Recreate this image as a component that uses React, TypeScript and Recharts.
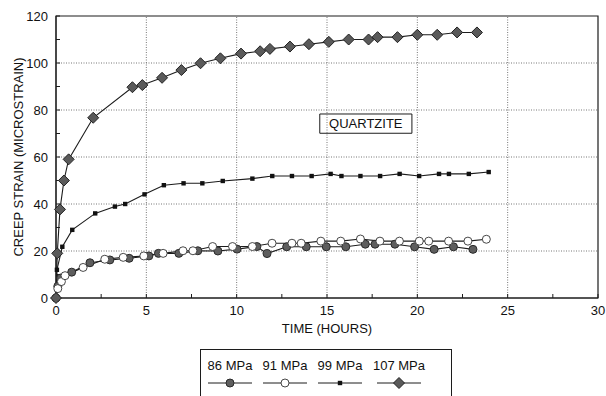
import {
  Label,
  Legend,
  Line,
  LineChart,
  ReferenceArea,
  ReferenceLine,
  XAxis,
  YAxis,
} from "recharts";

const hours86 = [0, 0.1, 0.26, 0.87, 1.88, 2.98, 4.05, 5.14, 5.67, 6.8, 7.85, 8.96, 10.02, 11.12, 11.68, 12.77, 13.85, 14.96, 16.04, 17.12, 17.66, 18.76, 19.85, 20.93, 22.0, 23.08];
const strain86 = [0, 5, 8.5, 11, 15, 16.2, 16.9, 17.9, 19, 19, 20.1, 20, 20.8, 21.9, 18.9, 21.8, 21.8, 21.8, 21.8, 22.9, 22.9, 22.9, 21.8, 20.7, 21.8, 20.7];

const hours91 = [0, 0.1, 0.3, 0.5, 1.5, 2.7, 3.72, 4.86, 5.93, 7.03, 7.58, 8.67, 9.77, 10.87, 11.96, 13.06, 13.57, 14.66, 15.76, 16.85, 17.93, 19.01, 20.11, 20.63, 21.73, 22.8, 23.82];
const strain91 = [0, 4, 7, 9.5, 13, 16.5, 17.3, 17.9, 19, 20.1, 20.1, 21.9, 21.9, 21.9, 23.3, 23.3, 23.3, 24.2, 24.2, 25.1, 24.2, 24.2, 24.2, 24.2, 24.2, 24.2, 25];

const hours99 = [0, 0.05, 0.35, 0.9, 2.17, 3.26, 3.83, 4.9, 5.97, 7.06, 8.1, 9.23, 10.87, 11.97, 13.06, 14.15, 15.2, 15.8, 16.85, 17.94, 19.02, 20.1, 21.2, 21.75, 22.85, 23.95];
const strain99 = [0, 12, 21.8, 29, 36, 38.9, 40, 44.1, 48, 48.8, 48.8, 49.8, 50.8, 51.9, 51.9, 51.9, 52.8, 51.9, 51.9, 51.9, 52.8, 51.9, 52.8, 52.8, 52.8, 53.6];

const hours107 = [0, 0.07, 0.22, 0.44, 0.7, 2.06, 4.23, 4.78, 5.87, 6.94, 8.0, 9.1, 10.24, 11.3, 11.84, 12.95, 14.0, 15.1, 16.2, 17.3, 17.8, 18.9, 20.0, 21.1, 22.2, 23.3];
const strain107 = [0, 19, 37.7, 50, 59, 76.7, 89.7, 90.6, 93.7, 97, 99.9, 102, 104, 105, 106, 107, 108, 109, 110, 110, 111, 111, 112, 112, 113, 113];

const seriesNames = ["86 MPa", "91 MPa", "99 MPa", "107 MPa"];

const xTicks = [0, 2.5, 5, 7.5, 10, 12.5, 15, 17.5, 20, 22.5, 25, 27.5, 30];
const yTicks = [0, 10, 20, 30, 40, 50, 60, 70, 80, 90, 100, 110, 120];
const xGrid = [5, 10, 15, 20, 25];
const yGrid = [20, 40, 60, 80, 100];

const font = "'Liberation Sans', Arial, sans-serif";
const ink = "#1c1c1c";

const toPoints = (hours: number[], strain: number[]) =>
  hours.map((t, i) => ({ t, v: strain[i] }));

function FilledDot({ cx, cy }: any) {
  return <circle cx={cx} cy={cy} r={4} fill="#5e5e5e" stroke="#2a2a2a" strokeWidth={1} />;
}

function OpenDot({ cx, cy }: any) {
  return <circle cx={cx} cy={cy} r={4} fill="#fff" stroke="#333" strokeWidth={0.9} />;
}

function SquareDot({ cx, cy }: any) {
  return <rect x={cx - 2.2} y={cy - 2.2} width={4.4} height={4.4} fill="#111" />;
}

function DiamondDot({ cx, cy }: any) {
  const s = 5.5;
  return (
    <polygon
      points={`${cx},${cy - s} ${cx + s},${cy} ${cx},${cy + s} ${cx - s},${cy}`}
      fill="#5a5a5a"
      stroke="#222"
      strokeWidth={1}
    />
  );
}

const markers = [FilledDot, OpenDot, SquareDot, DiamondDot];

function LegendBox() {
  const centers = [29, 84, 139, 198];
  return (
    <div
      style={{
        width: 252,
        height: 52,
        border: `1px solid ${ink}`,
        boxSizing: "border-box",
        background: "#fff",
      }}
    >
      <svg width={250} height={50}>
        {seriesNames.map((name, i) => {
          const Marker = markers[i];
          const cx = centers[i];
          return (
            <g key={name}>
              <text
                x={cx}
                y={17}
                textAnchor="middle"
                dominantBaseline="middle"
                fontSize={13}
                fontFamily={font}
                fill="#111"
              >
                {name}
              </text>
              <line x1={cx - 22} x2={cx + 22} y1={33} y2={33} stroke={ink} strokeWidth={1} />
              <Marker cx={cx} cy={33} />
            </g>
          );
        })}
      </svg>
    </div>
  );
}

export default function App() {
  const series = [
    toPoints(hours86, strain86),
    toPoints(hours91, strain91),
    toPoints(hours99, strain99),
    toPoints(hours107, strain107),
  ];

  return (
    <div style={{ width: 606, height: 396, overflow: "hidden", background: "#fff" }}>
      <style>{"body{margin:0}"}</style>
      <LineChart
        width={606}
        height={396}
        margin={{ top: 16, right: 8, bottom: 58, left: 0 }}
        style={{ fontFamily: font }}
      >
        <XAxis
          type="number"
          dataKey="t"
          domain={[0, 30]}
          ticks={xTicks}
          interval={0}
          allowDuplicatedCategory={false}
          height={40}
          tickSize={-4}
          tickMargin={12}
          tickFormatter={(v: number) => (v % 5 === 0 ? String(v) : "")}
          tick={{ fontSize: 13, fill: "#111" }}
          axisLine={{ stroke: ink }}
          tickLine={{ stroke: ink }}
        >
          <Label value="TIME (HOURS)" position="center" dy={10} fontSize={13} fill="#111" />
        </XAxis>
        <YAxis
          type="number"
          domain={[0, 120]}
          ticks={yTicks}
          interval={0}
          width={56}
          tickSize={-4}
          tickMargin={12}
          tickFormatter={(v: number) => (v % 20 === 0 ? String(v) : "")}
          tick={{ fontSize: 13, fill: "#111" }}
          axisLine={{ stroke: ink }}
          tickLine={{ stroke: ink }}
        >
          <Label
            value="CREEP STRAIN (MICROSTRAIN)"
            angle={-90}
            position="center"
            dx={-10}
            fontSize={13}
            fill="#111"
          />
        </YAxis>
        {xGrid.map((x) => (
          <ReferenceLine key={`gx${x}`} x={x} stroke="#777" strokeDasharray="1 1.5" />
        ))}
        {yGrid.map((y) => (
          <ReferenceLine key={`gy${y}`} y={y} stroke="#777" strokeDasharray="1 1.5" />
        ))}
        <ReferenceArea x1={0} x2={30} y1={0} y2={120} fill="none" stroke={ink} strokeWidth={1.2} />
        <ReferenceArea
          x1={14.6}
          x2={19.7}
          y1={70.1}
          y2={78.3}
          fill="#fff"
          fillOpacity={1}
          stroke={ink}
          label={{ value: "QUARTZITE", position: "center", fontSize: 13, fill: "#111" }}
        />
        {series.map((data, i) => {
          const Marker = markers[i];
          return (
            <Line
              key={seriesNames[i]}
              data={data}
              dataKey="v"
              name={seriesNames[i]}
              type="linear"
              stroke={ink}
              strokeWidth={1.1}
              isAnimationActive={false}
              dot={(p: any) => <Marker key={`${i}-${p.index}`} cx={p.cx} cy={p.cy} />}
              activeDot={false}
            />
          );
        })}
        <Legend
          layout="horizontal"
          verticalAlign="middle"
          align="center"
          wrapperStyle={{ top: 349, left: 200, width: 252, height: 52 }}
          content={() => <LegendBox />}
        />
      </LineChart>
    </div>
  );
}
